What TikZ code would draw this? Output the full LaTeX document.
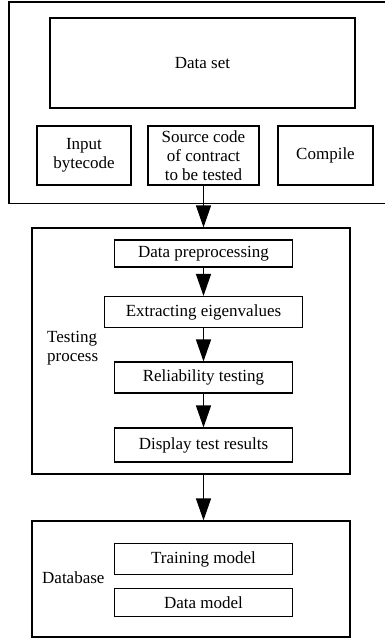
\documentclass[tikz,border=0pt]{standalone}
\usepackage{fontspec}
\setmainfont{Liberation Serif}
\usetikzlibrary{arrows.meta}
\tikzset{box/.style={draw,line width=1.1pt,inner sep=0pt,align=center,
    font=\fontsize{17}{19}\selectfont},
  grp/.style={draw,line width=1.2pt,inner sep=0pt},
  lbl/.style={inner sep=0pt,align=left,anchor=west,font=\fontsize{17}{19}\selectfont},
  arr/.style={line width=1.2pt,-{Triangle[length=22pt,width=15pt]}}}
\begin{document}
\begin{tikzpicture}[x=1pt,y=-1pt]
\useasboundingbox (0,0) rectangle (384,638);
% outer groups
\node[grp,minimum width=390,minimum height=201.5](top)at(204,102.75){};
\node[grp,minimum width=318,minimum height=246](test)at(191,351){};
\node[grp,minimum width=318,minimum height=116](db)at(191,579){};
% top group
\node[box,minimum width=305,minimum height=90](dataset)at(202.5,63){Data set};
\node[box,minimum width=94,minimum height=59](input)at(84,155.5){Input\\bytecode};
\node[box,minimum width=111,minimum height=59](src)at(203.5,155.5){Source code\\of contract\\to be tested};
\node[box,minimum width=95,minimum height=59](compile)at(325.5,155.5){Compile};
% testing process
\node[lbl](tlbl)at(47,348){Testing\\process};
\node[box,minimum width=178,minimum height=27](pre)at(203.5,253.5){Data preprocessing};
\node[box,minimum width=198,minimum height=31](ext)at(203.5,312){Extracting eigenvalues};
\node[box,minimum width=178,minimum height=31](rel)at(203.5,377.5){Reliability testing};
\node[box,minimum width=178,minimum height=34](disp)at(203.5,445){Display test results};
% database
\node[lbl](dlbl)at(42,578){Database};
\node[box,minimum width=178,minimum height=31](train)at(203.5,559){Training model};
\node[box,minimum width=178,minimum height=28](model)at(203.5,602.5){Data model};
% arrows
\draw[arr](src.south)--(src.south|-test.north);
\draw[arr](pre)--(ext);
\draw[arr](ext)--(rel);
\draw[arr](rel)--(disp);
\draw[arr](disp.south|-test.south)--(disp.south|-db.north);
\end{tikzpicture}
\end{document}
